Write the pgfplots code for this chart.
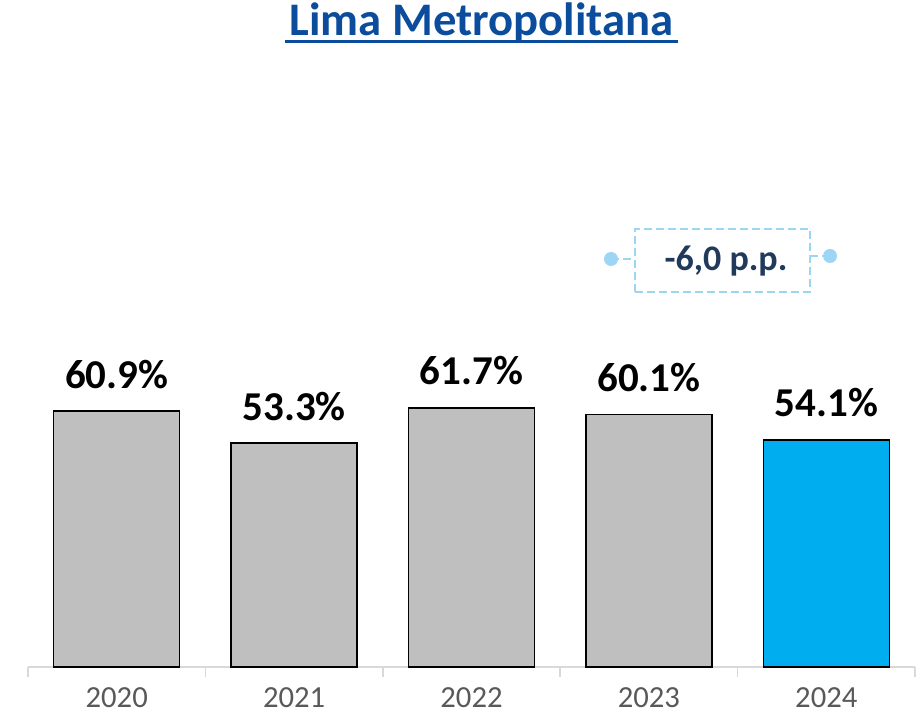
\documentclass[border=0pt]{standalone}
\usepackage{pgfplots}
\pgfplotsset{compat=1.18}
\usepackage{fontspec}
\setmainfont{Carlito}
\definecolor{barg}{HTML}{BFBFBF}
\definecolor{barb}{HTML}{00AEEF}
\definecolor{titleb}{HTML}{0B4C9C}
\definecolor{axg}{HTML}{D9D9D9}
\definecolor{tickc}{HTML}{595959}
\definecolor{callb}{HTML}{9DD5F5}
\definecolor{navy}{HTML}{213A5C}
\begin{document}
\begin{tikzpicture}
\path[use as bounding box] (0,0) rectangle (691.5pt,536.25pt);
\begin{axis}[
  at={(21pt,36pt)}, anchor=south west,
  scale only axis, width=665.25pt, height=472.5pt,
  xmin=-0.5, xmax=4.5, ymin=0, ymax=150,
  axis x line*=bottom, axis y line=none,
  x axis line style={-, draw=axg, line width=1.2pt},
  xtick={0,1,2,3,4},
  xticklabels={2020,2021,2022,2023,2024},
  major tick length=0pt,
  minor xtick={-0.5,0.5,1.5,2.5,3.5,4.5},
  minor tick length=7.5pt,
  xtick align=outside,
  every tick/.style={draw=axg, line width=1.2pt},
  xticklabel style={anchor=base, yshift=-30pt, text=tickc, font=\fontsize{23pt}{28pt}\selectfont},
  ybar, bar width=94.5pt,
  /pgf/number format/assume math mode=true,
  nodes near coords={\pgfmathprintnumber[fixed,fixed zerofill,precision=1]{\pgfplotspointmeta}\%},
  every node near coord/.append style={anchor=base, yshift=17.25pt, font=\bfseries\fontsize{30.75pt}{36pt}\selectfont, text=black},
  clip=false,
]
\addplot[bar shift=0pt, fill=barg, draw=black, line width=1.1pt] coordinates {(0,60.9) (1,53.3) (2,61.7) (3,60.1)};
\addplot[bar shift=0pt, fill=barb, draw=black, line width=1.1pt] coordinates {(4,54.1)};
\end{axis}
% title
\node[anchor=base, text=titleb, font=\bfseries\fontsize{35pt}{40pt}\selectfont, inner sep=0pt] at (361.1pt,509.25pt) {Lima Metropolitana};
\draw[titleb, line width=2.25pt] (213.75pt,504.75pt) -- (508.5pt,504.75pt);
% callout
\draw[callb, line width=1.5pt, dash pattern=on 6pt off 3pt] (476.25pt,317.25pt) rectangle (607.5pt,364.5pt);
\draw[callb, line width=1.5pt, dash pattern=on 6pt off 3pt] (458.25pt,342pt) -- (476.25pt,342pt);
\draw[callb, line width=1.5pt, dash pattern=on 6pt off 3pt] (607.5pt,344.25pt) -- (622.5pt,344.25pt);
\fill[callb] (458.25pt,342pt) circle (5.25pt);
\fill[callb] (622.5pt,344.25pt) circle (5.25pt);
\node[anchor=base, text=navy, font=\bfseries\fontsize{27pt}{32pt}\selectfont, inner sep=0pt] at (544.5pt,333pt) {-6,0 p.p.};
\end{tikzpicture}
\end{document}
